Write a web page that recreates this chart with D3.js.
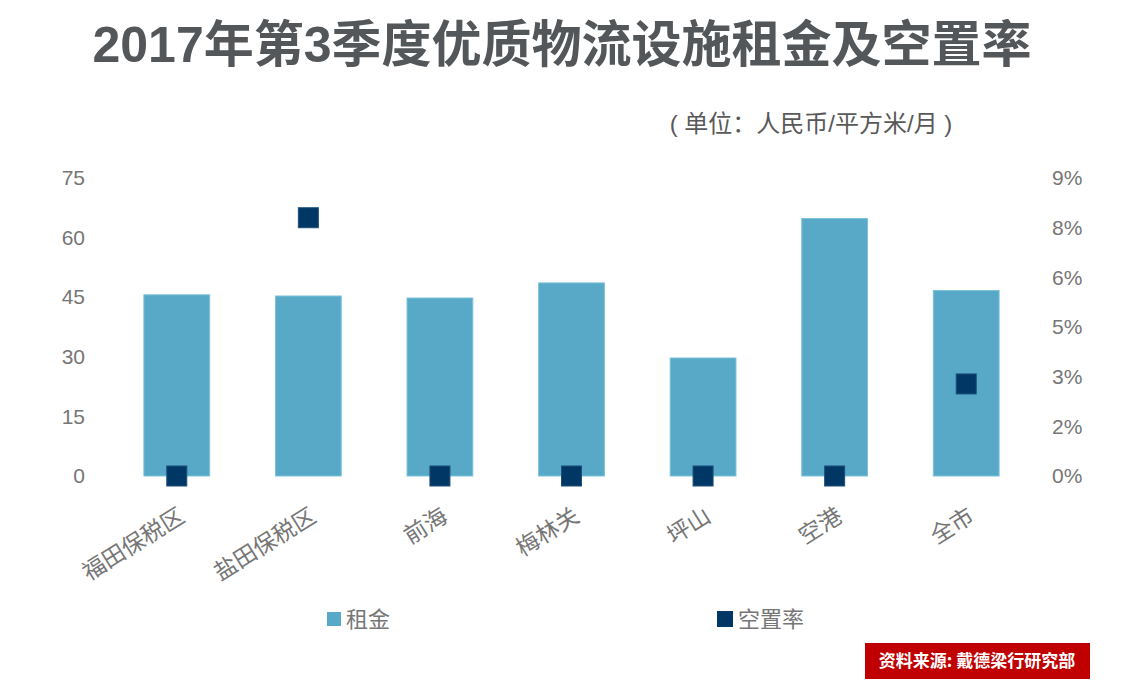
<!DOCTYPE html>
<html><head><meta charset="utf-8">
<script src="https://cdn.jsdelivr.net/npm/d3@7"></script>
<style>
body{margin:0;background:#fff;}
svg{display:block;font-family:"Liberation Sans","Noto Sans CJK SC",sans-serif;}
</style></head><body>
<svg id="c" width="1124" height="681"></svg>
<script>
const categories = ["福田保税区","盐田保税区","前海","梅林关","坪山","空港","全市"];
const rent = [45.6, 45.3, 44.8, 48.6, 29.7, 64.8, 46.7];
const vacancy = [0, 0.078, 0, 0, 0, 0, 0.0278];
const leftTicks = [0, 15, 30, 45, 60, 75];
const rightTicks = [0, 0.015, 0.03, 0.045, 0.06, 0.075, 0.09];

(function(){
const svg = d3.select("#c");
const plotTop = 178, plotBottom = 476;
const x = d3.scaleBand().domain(categories).range([111, 1032]).paddingInner(0.5).paddingOuter(0.25);
const yL = d3.scaleLinear().domain([0, 75]).range([plotBottom, plotTop]);
const yR = d3.scaleLinear().domain([0, 0.09]).range([plotBottom, plotTop]);

svg.append("text").attr("x", 562).attr("y", 62).attr("text-anchor", "middle")
  .attr("font-size", 50).attr("font-weight", "bold").attr("fill", "#53575a")
  .text("2017年第3季度优质物流设施租金及空置率");

svg.append("text").attr("x", 811).attr("y", 132).attr("text-anchor", "middle")
  .attr("font-size", 24).attr("fill", "#595959")
  .text("( 单位：人民币/平方米/月 )");

const axL = svg.append("g").attr("transform", "translate(89,0)")
  .call(d3.axisLeft(yL).tickValues(leftTicks).tickSize(0).tickPadding(4));
axL.select(".domain").remove();
axL.selectAll("text").attr("font-size", 21).attr("fill", "#767676").attr("font-family", "Liberation Sans, Arial, sans-serif");

const axR = svg.append("g").attr("transform", "translate(1048,0)")
  .call(d3.axisRight(yR).tickValues(rightTicks).tickSize(0).tickPadding(4).tickFormat(d3.format(".0%")));
axR.select(".domain").remove();
axR.selectAll("text").attr("font-size", 21).attr("fill", "#767676").attr("font-family", "Liberation Sans, Arial, sans-serif");

svg.append("g").selectAll("rect").data(categories).join("rect")
  .attr("x", d => x(d)).attr("width", x.bandwidth())
  .attr("y", (d, i) => yL(rent[i])).attr("height", (d, i) => yL(0) - yL(rent[i]))
  .attr("fill", "#57a9c7").attr("stroke", "#7cc3dc").attr("stroke-width", 1);

const ms = 20;
svg.append("g").selectAll("rect").data(categories).join("rect")
  .attr("x", d => x(d) + x.bandwidth() / 2 - ms / 2).attr("width", ms)
  .attr("y", (d, i) => yR(vacancy[i]) - ms / 2).attr("height", ms)
  .attr("fill", "#003764").attr("stroke", "#1d4f7a").attr("stroke-width", 1);

const xl = svg.append("g");
categories.forEach(c => {
  const cx = x(c) + x.bandwidth() / 2 - 2;
  xl.append("text").attr("transform", `translate(${cx},502) rotate(-32)`)
    .attr("text-anchor", "end").attr("dominant-baseline", "hanging")
    .attr("font-size", 23).attr("fill", "#767676").attr("font-family", "Noto Sans CJK SC, sans-serif")
    .text(c);
});

const legend = [{t:"租金", c:"#57a9c7", x:327, s:14}, {t:"空置率", c:"#003764", x:717, s:16}];
legend.forEach(l => {
  svg.append("rect").attr("x", l.x).attr("y", 619 - l.s / 2).attr("width", l.s).attr("height", l.s).attr("fill", l.c);
  svg.append("text").attr("x", l.x + l.s + 5).attr("y", 627).attr("font-size", 22).attr("fill", "#767676")
    .attr("font-family", "Noto Sans CJK SC, sans-serif").text(l.t);
});

svg.append("rect").attr("x", 865).attr("y", 643).attr("width", 225).attr("height", 36).attr("fill", "#c00000");
svg.append("text").attr("x", 977).attr("y", 667).attr("text-anchor", "middle").attr("font-size", 17)
  .attr("font-weight", "bold").attr("fill", "#fff").attr("font-family", "Noto Sans CJK SC, sans-serif")
  .text("资料来源: 戴德梁行研究部");
})();
</script></body></html>
